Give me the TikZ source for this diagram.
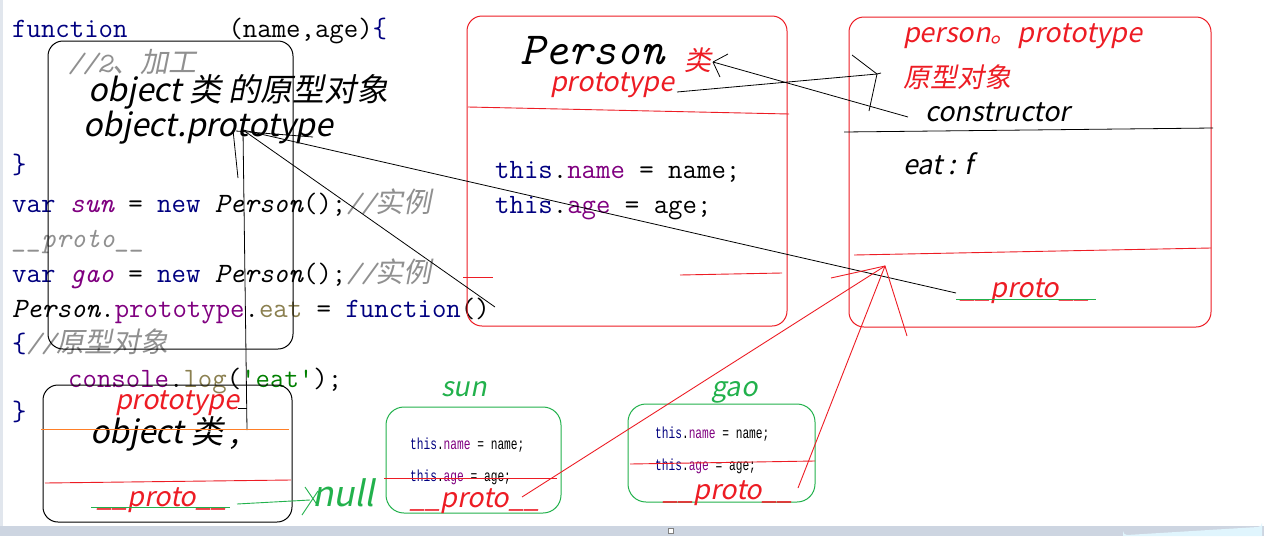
\documentclass[tikz,border=0pt]{standalone}
\usepackage{fontspec}
\newfontfamily\cjkc[FakeSlant=0.2]{Noto Sans CJK SC}
\newfontfamily\yh[FakeSlant=0.2]{Noto Sans CJK SC}
\newfontfamily\smallmono{Liberation Mono}
\definecolor{kwc}{HTML}{000080}
\definecolor{purc}{HTML}{800080}
\definecolor{olic}{HTML}{8B8050}
\definecolor{strc}{HTML}{008000}
\definecolor{cmtc}{HTML}{909090}
\definecolor{pred}{HTML}{ED1C24}
\definecolor{pgreen}{HTML}{22B14C}
\definecolor{porange}{HTML}{FF7F27}
\definecolor{barc}{HTML}{CDD5E1}
\newcommand\ckw[1]{\textcolor{kwc}{#1}}
\newcommand\cpur[1]{\textcolor{purc}{#1}}
\newcommand\coli[1]{\textcolor{olic}{#1}}
\newcommand\cstr[1]{\textcolor{strc}{#1}}
\newcommand\ccmt[1]{\textcolor{cmtc}{#1}}
\tikzset{
  code/.style={anchor=base west, inner sep=0pt, font=\ttfamily\fontsize{28}{32}\selectfont},
  small/.style={anchor=base west, inner sep=0pt, font=\smallmono\fontsize{16}{18}\selectfont, xscale=0.7},
  lab/.style={anchor=base west, inner sep=0pt, font=\yh\fontsize{27}{32}\selectfont},
  biglab/.style={anchor=base west, inner sep=0pt, font=\yh\fontsize{32}{36}\selectfont},
  blackbox/.style={draw=black, line width=1pt, rounded corners=15pt, inner sep=0pt},
  redbox/.style={draw=pred, line width=1pt, rounded corners=15pt, inner sep=0pt},
  greenbox/.style={draw=pgreen, line width=1pt, rounded corners=18pt, inner sep=0pt},
  bl/.style={draw=black, line width=0.8pt},
  rl/.style={draw=pred, line width=0.9pt},
  gl/.style={draw=pgreen, line width=0.9pt},
}
\begin{document}
\begin{tikzpicture}[x=1pt,y=-1pt]
\useasboundingbox (0,0) rectangle (1264,536);
\fill[white] (0,0) rectangle (1264,536);
\fill[barc!60] (0,0) rectangle (3,526);
\fill[barc] (0,526) rectangle (1264,536);
\fill[cyan!12] (1123,536) -- (1123,531) arc[start angle=180,end angle=90,radius=4] -- (1258,527) arc[start angle=90,end angle=0,radius=4] -- (1262,536) -- cycle;
\node[draw=gray, fill=white, minimum size=5pt, inner sep=0pt] (sq) at (671,531) {};

% code
\node[code] (c1) at (12,37) {\ckw{function}~~~~~~~(name,age)\ckw{\{}};
\node[code] (c2) at (68,72) {\ccmt{\itshape //2{\cjkc 、加工}}};
\node[code] (c3) at (12,173) {\ckw{\}}};
\node[code] (c4) at (12,212) {\ckw{var}~\cpur{\itshape sun}~=~\ckw{new}~{\itshape Person}();\ccmt{\itshape //{\cjkc 实例}}};
\node[code] (c5) at (12,247) {\ccmt{\itshape \_\_proto\_\_}};
\node[code] (c6) at (12,282) {\ckw{var}~\cpur{\itshape gao}~=~\ckw{new}~{\itshape Person}();\ccmt{\itshape //{\cjkc 实例}}};
\node[code] (c7) at (12,317) {{\itshape Person}.\cpur{prototype}.\coli{eat}~=~\ckw{function}()};
\node[code] (c8) at (12,352) {\ckw{\{}\ccmt{\itshape //{\cjkc 原型对象}}};
\node[code] (c9) at (68,387) {\cpur{console}.\coli{log}(\cstr{'eat'});};
\node[code] (c10) at (12,420) {\ckw{\}}};

% boxes
\node[blackbox, minimum width=245pt, minimum height=308pt] (objbox) at (170.5,195) {};
\node[blackbox, minimum width=249pt, minimum height=137pt] (objcls) at (167.5,453.5) {};
\node[redbox, minimum width=320pt, minimum height=310pt] (person) at (627,171) {};
\node[redbox, minimum width=362pt, minimum height=310pt] (proto) at (1030,172) {};
\node[greenbox, minimum width=175pt, minimum height=106pt] (sun) at (473.5,460) {};
\node[greenbox, minimum width=187pt, minimum height=98pt] (gao) at (721.5,453) {};

% object prototype labels
\node[biglab] (op1) at (88,101) {object 类 的原型对象};
\node[biglab] (op2) at (83,136) {object.prototype};
\node[lab, text=pred] (ocp) at (115,409) {prototype};
\node[biglab] (ocl) at (90,443) {object 类 ,};
\node[lab, text=pred] (ocproto) at (97,506) {\_\_proto\_\_};
\node[lab, text=pgreen, font=\yh\fontsize{35}{40}\selectfont] (null) at (312,506) {null};

% Person box
\node[code, font=\ttfamily\itshape\fontsize{46}{50}\selectfont] (ptitle) at (520,64) {Person};
\node[lab, text=pred] (plei) at (684,70) {类};
\node[lab, text=pred] (pproto) at (550,91) {prototype};
\node[code] (pn) at (495,178) {\ckw{this}.\cpur{name}~=~name;};
\node[code] (pa) at (495,213) {\ckw{this}.\cpur{age}~=~age;};

% person.prototype box
\node[lab, text=pred] (pp1) at (903,42) {person。prototype};
\node[lab, text=pred] (pp2) at (903,87) {原型对象};
\node[lab] (pp3) at (925,121) {constructor};
\node[lab] (pp4) at (903,174) {eat : f};
\node[lab, text=pred] (pp5) at (960,297) {\_\_proto\_\_};

% sun / gao
\node[lab, text=pgreen] (sunl) at (441,396) {sun};
\node[lab, text=pgreen] (gaol) at (711,396) {gao};
\node[small] (sn) at (410,449) {\ckw{this}.\cpur{name}~=~name;};
\node[small] (sa) at (410,481) {\ckw{this}.\cpur{age}~=~age;};
\node[small] (gn) at (655,438) {\ckw{this}.\cpur{name}~=~name;};
\node[small] (ga) at (655,470) {\ckw{this}.\cpur{age}~=~age;};
\node[lab, text=pred] (sunp) at (410,507) {\_\_proto\_\_};
\node[lab, text=pred] (gaop) at (663,499) {\_\_proto\_\_};

% anchor coordinates for freehand connectors
\coordinate (opt) at (243,130);
\coordinate (ptip) at (885,266);
\coordinate (ctip) at (877,74);
\coordinate (ltip) at (713,62);

% black connectors
\draw[bl] (opt) -- (956,293);
\draw[bl] (opt) -- (495,307);
\draw[bl] (opt) -- (247,430);
\draw[bl] (238,408) -- (247,408);
\draw[bl] (233,130) -- (238,178);
\draw[bl] (236,131) -- (313,137);
\draw[bl] (ltip) -- (908,117);
\draw[bl] (ltip) -- (728,54);
\draw[bl] (ltip) -- (720,77);
\draw[bl] (677,92) -- (ctip);
\draw[bl] (852,55) -- (ctip) -- (869,111);
\draw[bl] (ctip) -- (881,73);
\draw[bl] (844,132) -- (1213,128);

% red lines
\draw[rl] (468,107) -- (789,114);
\draw[rl] (463,277) -- (493,277);
\draw[rl] (680,275) -- (782,273);
\draw[rl] (854,255) -- (1211,248);
\draw[rl] (522,497) -- (ptip);
\draw[rl] (798,488) -- (ptip);
\draw[rl] (831,278) -- (ptip) -- (907,336);
\draw[rl] (384,478) -- (557,478);
\draw[rl] (630,464) -- (815,461);
\draw[rl] (45,483) -- (291,480);
\draw[draw=porange, line width=0.9pt] (41,429) -- (289,429);

% green lines
\draw[gl] (91,507) -- (230,507);
\draw[gl] (237,504) -- (310,500);
\draw[gl] (305,487) -- (318,506);
\draw[gl] (318,491) -- (302,515);
\draw[gl] (956,299) -- (1096,299);
\end{tikzpicture}
\end{document}
